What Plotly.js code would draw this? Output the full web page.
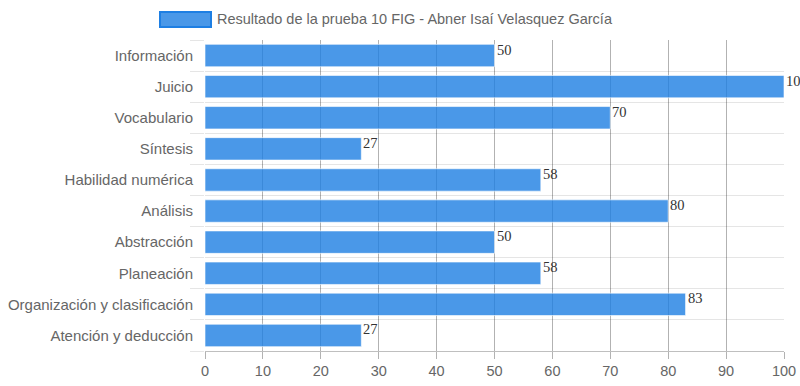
<!DOCTYPE html>
<html>
<head>
<meta charset="utf-8">
<script src="https://cdn.plot.ly/plotly-3.0.1.min.js"></script>
<style>html,body{margin:0;padding:0;background:#fff;}#chart{width:800px;height:386px;}</style>
</head>
<body>
<div id="chart"></div>
<script>
const categories = ["Información","Juicio","Vocabulario","Síntesis","Habilidad numérica","Análisis","Abstracción","Planeación","Organización y clasificación","Atención y deducción"];
const values = [50,100,70,27,58,80,50,58,83,27];
const seriesName = "Resultado de la prueba 10 FIG - Abner Isaí Velasquez García";
const xTicks = [0,10,20,30,40,50,60,70,80,90,100];

const idx = categories.map((c,i)=>i);

const trace = {
  type: 'bar',
  orientation: 'h',
  x: values,
  y: idx,
  name: seriesName,
  width: 0.72,
  marker: {color: 'rgba(29,126,226,0.8)', line: {color: 'rgba(255,255,255,0.6)', width: 1}},
  hoverinfo: 'x+y',
  showlegend: false
};

const annotations = values.map((v,i)=>({
  x: v, y: i, xref: 'x', yref: 'y',
  text: String(v), showarrow: false,
  xanchor: 'left', yanchor: 'middle', xshift: 0, yshift: 6,
  font: {family: 'Liberation Serif, Times New Roman, serif', size: 14.5, color: '#333'}
}));
annotations.push({
  xref: 'paper', yref: 'paper', x: (215-205)/579, y: 1 + (40-19)/311,
  xanchor: 'left', yanchor: 'middle', showarrow: false,
  text: seriesName,
  font: {family: 'Liberation Sans, Arial, sans-serif', size: 14.5, color: '#666'}
});

const shapes = [{
  type: 'rect', xref: 'paper', yref: 'paper',
  x0: (160-205)/579, x1: (211-205)/579,
  y0: 1 + (40-27)/311, y1: 1 + (40-12)/311,
  fillcolor: 'rgba(29,126,226,0.8)', line: {color: '#1e7fe3', width: 2}
}];

const layout = {
  width: 800, height: 386,
  margin: {l: 205, r: 16, t: 40, b: 35, pad: 0},
  paper_bgcolor: '#fff', plot_bgcolor: '#fff',
  font: {family: 'Liberation Sans, Arial, sans-serif', size: 14, color: '#666'},
  xaxis: {
    range: [0, 100], tickvals: xTicks, ticktext: xTicks.map(String),
    showgrid: true, gridcolor: 'rgba(0,0,0,0.3)', gridwidth: 1,
    zeroline: false, showline: true, linecolor: 'rgba(0,0,0,0.25)', linewidth: 1,
    ticks: 'outside', ticklen: 7, tickcolor: 'rgba(0,0,0,0.3)',
    tickfont: {size: 14.5, color: '#666'}, fixedrange: true
  },
  yaxis: {
    range: [categories.length - 0.5, -0.5],
    tickvals: idx, ticktext: categories,
    showgrid: false, zeroline: false, showline: false,
    ticks: '', ticklen: 0, ticklabelstandoff: 11,
    tickfont: {size: 15, color: '#666'},
    minor: {tick0: 0.5, dtick: 1, showgrid: true, gridcolor: 'rgba(0,0,0,0.1)', gridwidth: 1,
            ticks: 'outside', ticklen: 14, tickcolor: 'rgba(0,0,0,0.1)'},
    automargin: false, fixedrange: true
  },
  bargap: 0.28,
  annotations: annotations,
  shapes: shapes,
  showlegend: false
};

Plotly.newPlot('chart', [trace], layout, {displayModeBar: false, staticPlot: true});
</script>
</body>
</html>
